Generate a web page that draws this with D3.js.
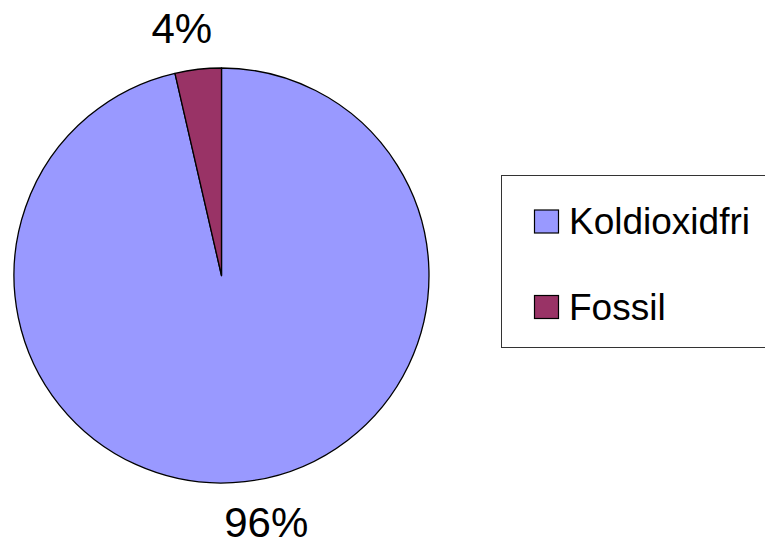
<!DOCTYPE html>
<html>
<head>
<meta charset="utf-8">
<script src="https://cdn.jsdelivr.net/npm/d3@7"></script>
<style>
  html, body { margin: 0; padding: 0; background: #fff; }
  svg { display: block; }
  text { font-family: "Liberation Sans", Arial, sans-serif; fill: #000; }
</style>
</head>
<body>
<svg id="chart" width="765" height="545"></svg>
<script>
// Share of electricity production by source (percent)
const categories = ["Koldioxidfri", "Fossil"];
const values = [96.4, 3.6];
const colors = ["#9999FF", "#993366"];

const svg = d3.select("#chart");
const cx = 221.5, cy = 275.5, r = 207.5;

const pie = d3.pie().sort(null).value(d => d.value);
const data = categories.map((c, i) => ({ name: c, value: values[i], color: colors[i] }));
const arcs = pie(data);
const arc = d3.arc().innerRadius(0).outerRadius(r);

const g = svg.append("g").attr("transform", `translate(${cx},${cy})`);
g.selectAll("path.slice")
  .data(arcs)
  .join("path")
  .attr("class", "slice")
  .attr("d", arc)
  .attr("fill", d => d.data.color)
  .attr("stroke", "#000")
  .attr("stroke-width", 1.3)
  .attr("stroke-linejoin", "round");

// Percentage labels just outside the rim, nudged so each sits clear of the pie
const total = d3.sum(values);
const labelArc = d3.arc().innerRadius(r + 38).outerRadius(r + 38);
const labelNudge = [[17, 18], [-12, 11]];
g.selectAll("text.pct")
  .data(arcs)
  .join("text")
  .attr("class", "pct")
  .attr("text-anchor", "middle")
  .attr("font-size", 42)
  .attr("x", d => labelArc.centroid(d)[0] + labelNudge[d.index][0])
  .attr("y", d => labelArc.centroid(d)[1] + labelNudge[d.index][1])
  .text(d => Math.round(d.data.value / total * 100) + "%");

// Legend
const legend = svg.append("g");
legend.append("rect")
  .attr("x", 501.5).attr("y", 175.5)
  .attr("width", 300).attr("height", 172)
  .attr("fill", "#fff")
  .attr("stroke", "#333")
  .attr("stroke-width", 1);

const rowY = d3.scalePoint().domain(categories).range([221.5, 307]);
const items = legend.selectAll("g.item")
  .data(data)
  .join("g")
  .attr("class", "item")
  .attr("transform", d => `translate(534.5,${rowY(d.name)})`);
items.append("rect")
  .attr("x", 0).attr("y", -11.5)
  .attr("width", 24).attr("height", 23)
  .attr("fill", d => d.color)
  .attr("stroke", "#000")
  .attr("stroke-width", 1.2);
items.append("text")
  .attr("x", 34.5).attr("y", 12.5)
  .attr("font-size", 37)
  .text(d => d.name);
</script>
</body>
</html>
